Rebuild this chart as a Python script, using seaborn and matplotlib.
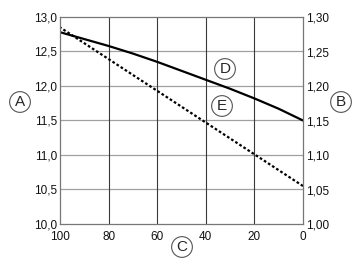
import matplotlib
matplotlib.use("Agg")
import matplotlib.pyplot as plt
import seaborn as sns
import pandas as pd

x_vals = [100, 90, 80, 70, 60, 50, 40, 30, 20, 10, 0]
d_vals = [12.78, 12.68, 12.58, 12.47, 12.35, 12.22, 12.09, 11.96, 11.82, 11.67, 11.50]
e_vals = [12.85, 12.62, 12.39, 12.16, 11.93, 11.70, 11.47, 11.24, 11.01, 10.78, 10.55]
left_ticks = [10.0, 10.5, 11.0, 11.5, 12.0, 12.5, 13.0]
right_ticks = [1.00, 1.05, 1.10, 1.15, 1.20, 1.25, 1.30]
x_ticks = [100, 80, 60, 40, 20, 0]

sns.set_style("white")
plt.rcParams['font.family'] = ['Liberation Sans', 'DejaVu Sans']

fig = plt.figure(figsize=(3.56, 2.67), dpi=100)
ax = fig.add_axes([60/356, 1-224/267, (303-60)/356, (224-17)/267])

df = pd.DataFrame({"x": x_vals, "D": d_vals, "E": e_vals})
sns.lineplot(data=df, x="x", y="D", ax=ax, color="black", lw=1.6)
sns.lineplot(data=df, x="x", y="E", ax=ax, color="black", lw=1.6, linestyle=(0, (1.2, 1.0)))

ax.set_xlim(100, 0)
ax.set_ylim(10.0, 13.0)
ax.set_xticks(x_ticks)
ax.set_yticks(left_ticks)
ax.set_yticklabels([f"{v:.1f}".replace(".", ",") for v in left_ticks])
ax.set_xticklabels([str(v) for v in x_ticks])
ax.set_xlabel("")
ax.set_ylabel("")
for y in left_ticks[1:-1]:
    ax.axhline(y, color="#a0a0a0", lw=0.9, zorder=0)
for x in x_ticks[1:-1]:
    ax.axvline(x, color="#3a3a3a", lw=0.8, zorder=0)
for s in ax.spines.values():
    s.set_color("#777777")
    s.set_linewidth(0.9)
ax.tick_params(axis="y", length=0, labelsize=8.5, colors="#111111", pad=2)
ax.tick_params(axis="x", length=0, labelsize=8.5, colors="#111111", pad=5)

ax2 = ax.twinx()
ax2.set_ylim(1.00, 1.30)
ax2.set_yticks(right_ticks)
ax2.set_yticklabels([f"{v:.2f}".replace(".", ",") for v in right_ticks])
ax2.tick_params(axis="y", length=0, labelsize=8.5, colors="#111111", pad=2)
for s in ax2.spines.values():
    s.set_visible(False)

circ = dict(boxstyle="circle,pad=0.22", fc="white", ec="#555555", lw=0.8)
for lbl, px, py in [("A", 20, 102), ("B", 341, 102), ("C", 182, 247), ("D", 225, 69), ("E", 222, 106)]:
    fig.text(px/356, 1-py/267, lbl, ha="center", va="center", fontsize=11, bbox=circ)

fig.savefig("out.png", dpi=100)
